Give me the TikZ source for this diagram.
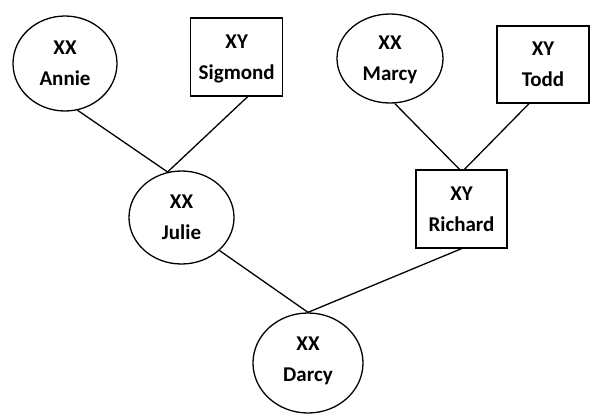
\documentclass[tikz,border=0pt]{standalone}
\usepackage{fontspec}
\setmainfont{Carlito}
\usepackage{tikz}
\usetikzlibrary{positioning, shapes.geometric}

\begin{document}
\begin{tikzpicture}[
    x=1pt, y=-1pt,
    every node/.style={draw, line width=1.3pt, inner sep=0pt, align=center,
        font=\fontsize{21}{31}\selectfont\bfseries},
    female/.style={ellipse},
    male/.style={rectangle, minimum width=92pt, minimum height=78pt},
    link/.style={black, line width=1.3pt}
]
\useasboundingbox (0,0) rectangle (598,413);

% Grandparents
\node[female, minimum width=104pt, minimum height=95pt, text depth=-5pt] (Annie) at (65,63.5) {XX\\Annie};
\node[male, text depth=-15pt] (Sigmond) at (236.7,57) {XY\\Sigmond};
\node[female, minimum width=106pt, minimum height=89pt, text depth=-14pt] (Marcy) at (390,58.5) {XX\\Marcy};
\node[male, minimum height=77pt, text depth=-17pt] (Todd) at (543,64.5) {XY\\Todd};

% Parents
\node[female, minimum width=105pt, minimum height=93pt, text depth=-12pt] (Julie) at (181.5,217.5) {XX\\Julie};
\node[male, minimum width=91pt, text depth=-10pt] (Richard) at (461.5,209) {XY\\Richard};

% Child
\node[female, minimum width=110pt, minimum height=100pt, text depth=7pt] (Darcy) at (308,363) {XX\\Darcy};

% Lines to Julie
\draw[link] (Annie.-75.5) -- (Julie.107);
\draw[link] ([xshift=11pt]Sigmond.south) -- (Julie.107);

% Lines to Richard
\draw[link] (Marcy.-84) -- ([xshift=-2pt]Richard.north);
\draw[link] ([xshift=-14pt]Todd.south) -- ([xshift=3pt]Richard.north);

% Lines to Darcy
\draw[link] (Julie.-41) -- (Darcy.north);
\draw[link] (Richard.south) -- (Darcy.north);

\end{tikzpicture}
\end{document}
